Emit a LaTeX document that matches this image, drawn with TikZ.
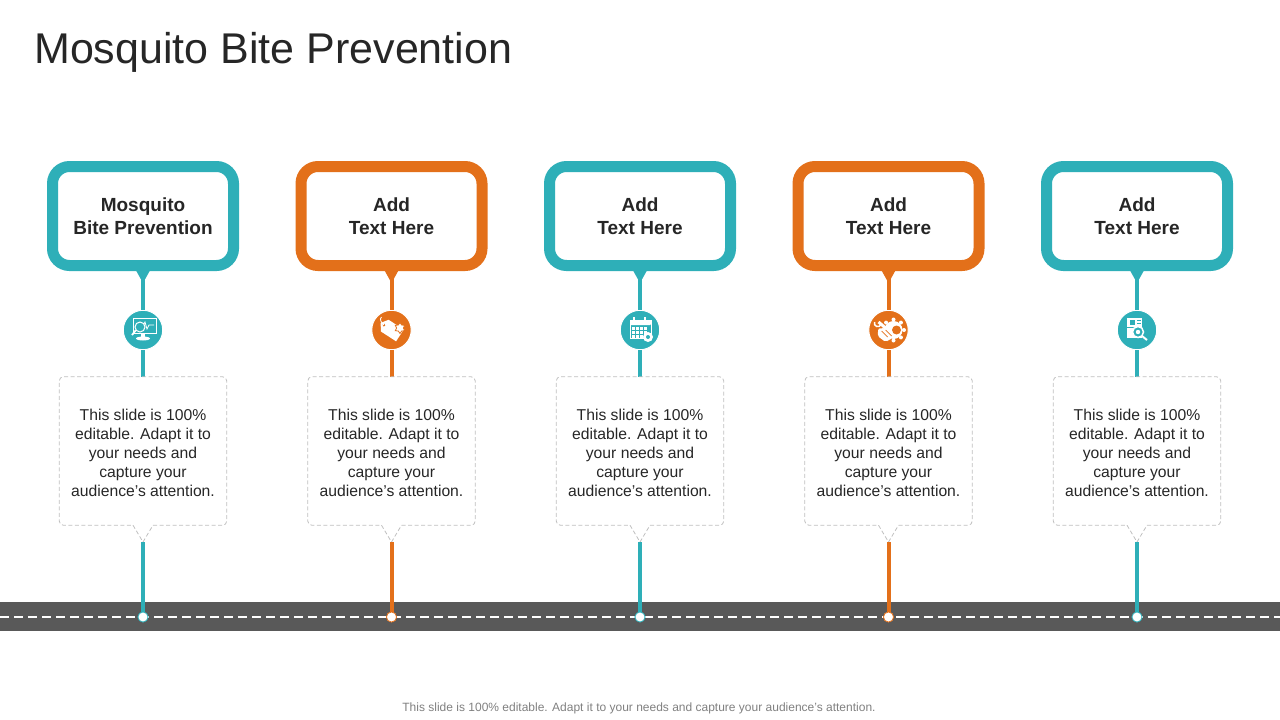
\documentclass[tikz,border=0pt]{standalone}
\usepackage{fontspec}
\setmainfont{Liberation Sans}
\usetikzlibrary{calc, shapes.geometric}
\definecolor{tealmain}{RGB}{46, 175, 184}
\definecolor{orangemain}{RGB}{227, 112, 26}
\definecolor{roadgray}{RGB}{89, 89, 89}
\definecolor{titleink}{RGB}{38, 38, 38}
\tikzset{
  cardbox/.style={draw=#1, fill=white, line width=11pt, rounded corners=17pt, minimum width=181pt, minimum height=99pt, inner sep=0pt, align=center, font=\bfseries\fontsize{19}{23}\selectfont, text=titleink},
  bodybox/.style={minimum width=167pt, minimum height=148pt, inner sep=0pt, align=center, font=\fontsize{15.7}{19}\selectfont, text=titleink},
  bodyline/.style={draw=black!25, dash pattern=on 4pt off 2.5pt, line width=0.8pt},
  iconball/.style={circle, fill=#1, draw=white, line width=1pt, minimum size=39.5pt, inner sep=0pt},
  roaddot/.style={circle, fill=white, draw=#1, line width=0.7pt, minimum size=10pt, inner sep=0pt},
  stem/.style={draw=#1, line width=4pt},
  iconline/.style={draw=white, line width=1pt, fill=none},
}
% the five small icons, drawn round (0,0)
\newcommand{\iconmonitor}[1]{
  \draw[iconline] (-10,-12) rectangle (13,3);
  \draw[iconline, line width=0.8pt] (0,-4) -- (2,-8) -- (4,-1) -- (6,-5) -- (11,-5);
  \draw[iconline, fill=#1] (-3,-3) circle (5);
  \draw[iconline, line width=1.8pt] (-7,0) -- (-11,5);
  \fill[white] (-2,3) rectangle (2,7);
  \fill[white] (0,8.5) ellipse (7 and 2);
}
\newcommand{\icontag}[1]{
  \begin{scope}[rotate=-33]
    \fill[white] (-8,-7) -- (10,-7) -- (10,7) -- (-8,7) -- (-13,0) -- cycle;
    \fill[#1] (-9,0) circle (1.5);
  \end{scope}
  \draw[iconline, line width=0.8pt] (-7.5,-5) .. controls (-11,-8) and (-12,-11) .. (-10,-13);
  \node[star, star points=6, star point ratio=1.6, fill=white, draw=#1, line width=0.8pt, minimum size=11pt, inner sep=0pt] (tagstar) at (8.5,-2) {};
}
\newcommand{\iconcalendar}[1]{
  \fill[white, rounded corners=1pt] (-10,-10) rectangle (11,-5);
  \draw[iconline] (-10,-10) rectangle (11,8);
  \foreach \ky in {-3,1,5} \foreach \kx in {-8,-4,0,4} \fill[white] (\kx,\ky) rectangle +(3,2.6);
  \fill[white] (-7,-13) rectangle (-5,-8);
  \fill[white] (4,-13) rectangle (6,-8);
  \fill[white] (8,7) circle (5);
  \fill[#1] (8,7) circle (2);
}
\newcommand{\iconwrench}[1]{
  \fill[white] (5,0) circle (9);
  \foreach \ka in {0,45,...,315} \fill[white] (5,0) ++(\ka:10.5) circle (2);
  \fill[#1] (8,0) circle (4.5);
  \draw[white, line width=3pt] (-10,-8) -- (3,3);
  \draw[white, line width=1.5pt] (-14,-8) arc (200:20:3.5);
  \fill[white, rounded corners=2pt] (-10,-2) -- (3,0) -- (4,8) -- (-3,12) -- (-11,6) -- cycle;
  \draw[#1, line width=0.7pt] (-7,1) -- (-1,7) (-3,0) -- (3,6);
}
\newcommand{\icondoc}[1]{
  \fill[white] (-10,-12) rectangle (5,8);
  \fill[#1] (-7,-10) rectangle (-2,-5);
  \fill[#1] (0,-10) rectangle (4,-9);
  \fill[#1] (0,-7) rectangle (4,-6);
  \fill[#1] (-10,-3) rectangle (5,-2);
  \draw[white, fill=#1, line width=1.5pt] (1,2) circle (5.5);
  \fill[white] (1,2) circle (2.2);
  \draw[white, line width=2pt] (5,6) -- (10,10);
}
\newcommand{\slidetext}{\rule{0pt}{15pt}This slide is 100\%\\editable. Adapt it to\\your needs and\\capture your\\audience’s attention.}
\begin{document}
\begin{tikzpicture}[x=1pt, y=-1pt]
  \useasboundingbox (0,0) rectangle (1280,720);

  % Title
  \node[anchor=west, inner sep=0pt, font=\fontsize{43}{50}\selectfont, text=titleink] (title) at (34,52) {Mosquito Bite Prevention};

  % Road
  \node[fill=roadgray, minimum width=1280pt, minimum height=29pt, inner sep=0pt, anchor=north west] (road) at (0,602) {};
  \coordinate (roadstart) at (0,617);
  \coordinate (roadend) at (1280,617);
  \draw[white, line width=2.5pt, dash pattern=on 9pt off 5pt] (roadstart) -- (roadend);

  % Columns
  \foreach \cx/\cc/\hd/\ic [count=\i] in {
    143/tealmain/{Mosquito\\Bite Prevention}/\iconmonitor,
    391.5/orangemain/{Add\\Text Here}/\icontag,
    640/tealmain/{Add\\Text Here}/\iconcalendar,
    888.5/orangemain/{Add\\Text Here}/\iconwrench,
    1137/tealmain/{Add\\Text Here}/\icondoc} {
    \node[cardbox=\cc, anchor=south] (card\i) at (\cx,271) {\hd};
    \node[iconball=\cc] (icon\i) at (\cx,330) {};
    \node[bodybox] (body\i) at (\cx,451) {\slidetext};
    \coordinate (tip\i) at (\cx,542);
    \coordinate (cardtip\i) at (\cx,283);
    \node[roaddot=\cc] (dot\i) at (\cx,617) {};

    % Connectors
    \fill[\cc] ([xshift=-10pt, yshift=6pt]card\i.south) -- ([xshift=10pt, yshift=6pt]card\i.south) -- (cardtip\i) -- cycle;
    \draw[stem=\cc] (card\i.south) -- (icon\i.north);
    \draw[stem=\cc] (icon\i.south) -- (body\i.north);
    \draw[bodyline, rounded corners=4pt] ([xshift=10pt]body\i.south) -- (body\i.south east) -- (body\i.north east) -- (body\i.north west) -- (body\i.south west) -- ([xshift=-10pt]body\i.south);
    \draw[bodyline] ([xshift=-10pt]body\i.south) -- (tip\i) -- ([xshift=10pt]body\i.south);
    \draw[stem=\cc] (tip\i) -- (dot\i.north);
    \node[roaddot=\cc] at (dot\i) {};

    % Icon
    \begin{scope}[shift={(icon\i.center)}]
      \ic{\cc}
    \end{scope}
  }

  % Footer
  \node[inner sep=0pt, font=\fontsize{12}{14}\selectfont, text=black!50] (footer) at (639,708) {This slide is 100\% editable. Adapt it to your needs and capture your audience's attention.};
\end{tikzpicture}
\end{document}
